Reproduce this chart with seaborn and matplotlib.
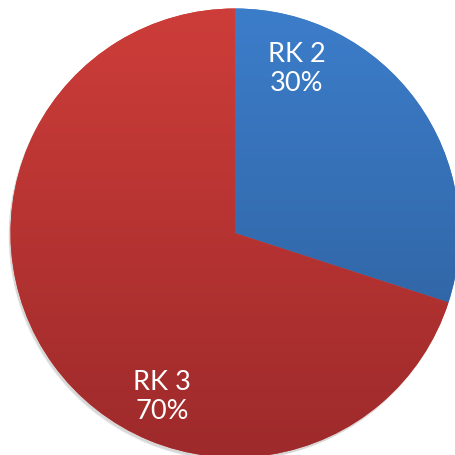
import numpy as np
import matplotlib
matplotlib.use("Agg")
import matplotlib.pyplot as plt
import seaborn as sns
from matplotlib.colors import LinearSegmentedColormap

labels = ["RK 2", "RK 3"]
values = [30, 70]
top_colors = ["#3C7DCA", "#CD3D39"]
bottom_colors = ["#2C5C97", "#9E2A2B"]

sns.set_theme(style="white")
plt.rcParams['font.family'] = ['Lato', 'DejaVu Sans']

W, H = 456, 455
fig = plt.figure(figsize=(W / 100, H / 100), dpi=100)
ax = fig.add_axes([0, 0, 1, 1])
ax.set_xlim(0, W)
ax.set_ylim(0, H)
ax.set_aspect("equal")
ax.axis("off")

cx, cy, r = 235, H - 233, 224.5

# soft shadow
for i, a in enumerate([0.05, 0.05, 0.06]):
    sh = plt.Circle((cx - 1 - i * 0.6, cy - 2 - i * 0.8), r + 0.5 - i * 0.4,
                    color="black", alpha=a, lw=0, zorder=0)
    ax.add_patch(sh)

wedges, _ = ax.pie(values, startangle=90, counterclock=False, center=(cx, cy),
                   radius=r, colors=top_colors, frame=True,
                   wedgeprops=dict(linewidth=0))
ax.set_xlim(0, W)
ax.set_ylim(0, H)
ax.axis("off")

grad = np.linspace(1, 0, 256).reshape(-1, 1)
for w, tc, bc in zip(wedges, top_colors, bottom_colors):
    cmap = LinearSegmentedColormap.from_list("g", [bc, tc])
    im = ax.imshow(grad, cmap=cmap, extent=(cx - r, cx + r, cy - r, cy + r),
                   origin="upper", aspect="auto", zorder=2, vmin=0, vmax=1)
    im.set_clip_path(w)

label_pos = [(297, H - 69), (162, H - 397)]
for lab, v, (x, y) in zip(labels, values, label_pos):
    ax.text(x, y, f"{lab}\n{v}%", color="white", fontsize=19.5,
            ha="center", va="center", linespacing=1.22, zorder=5)

fig.savefig("out.png", dpi=100)
